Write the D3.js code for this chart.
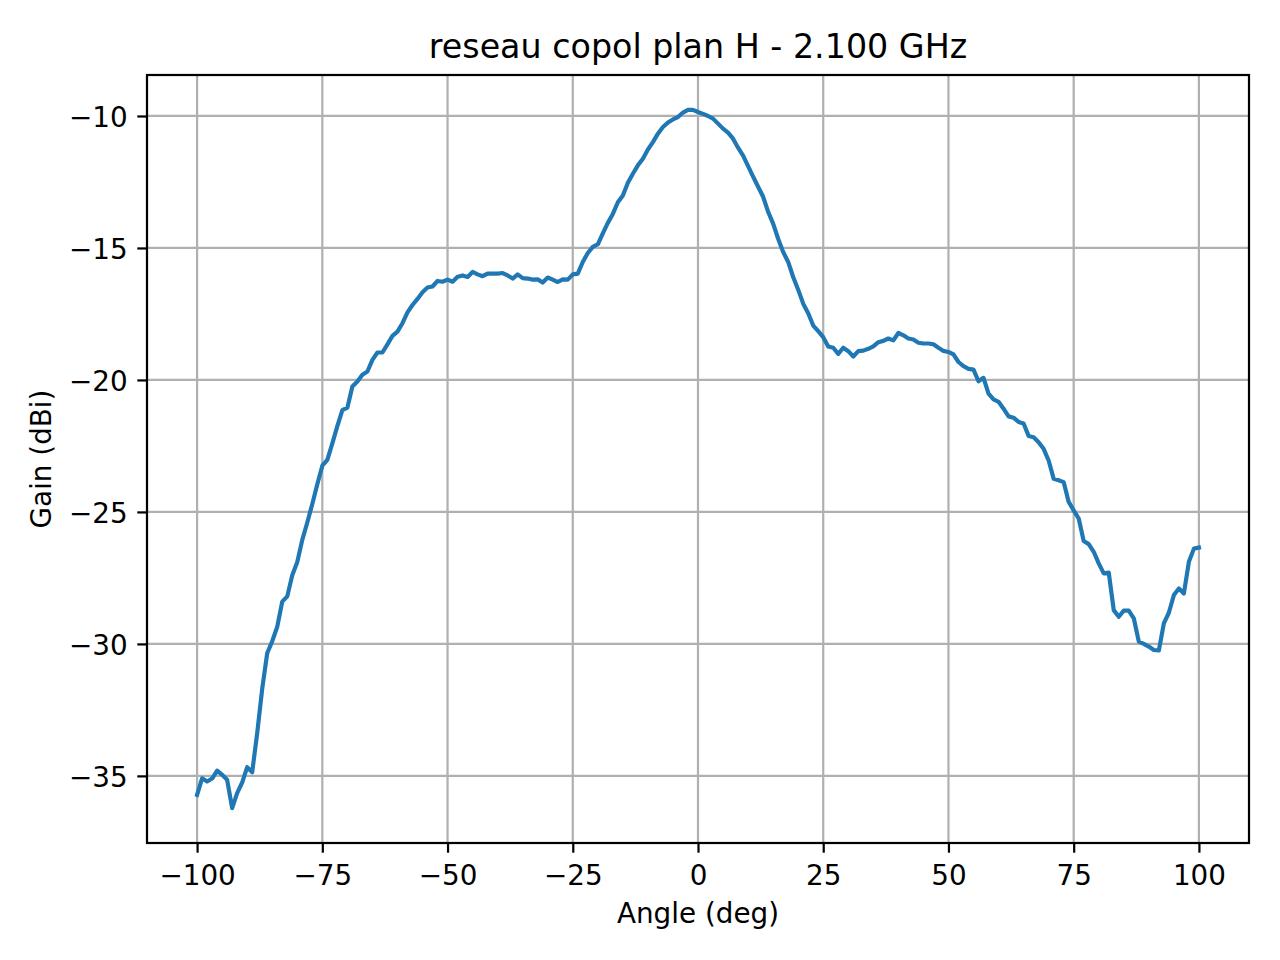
<!DOCTYPE html>
<html>
<head>
<meta charset="utf-8">
<script src="https://cdn.jsdelivr.net/npm/d3@7"></script>
<style>
  body { margin: 0; background: #fff; }
  svg text { font-family: "DejaVu Sans", sans-serif; fill: #000; }
</style>
</head>
<body>
<svg id="chart" width="1280" height="960"></svg>
<script>
// title / labels
const title = "reseau copol plan H - 2.100 GHz";
const xLabel = "Angle (deg)";
const yLabel = "Gain (dBi)";

// angle samples (deg), 1 deg step
const angles = d3.range(-100, 101);

const gain = [
  -35.72, -35.09, -35.21, -35.10, -34.80, -34.96, -35.15, -36.22, -35.65, -35.25,
  -34.67, -34.86, -33.38, -31.70, -30.35, -29.90, -29.35, -28.40, -28.20, -27.40,
  -26.90, -26.06, -25.40, -24.70, -23.95, -23.25, -23.03, -22.40, -21.75, -21.14,
  -21.05, -20.25, -20.06, -19.80, -19.68, -19.24, -18.96, -18.96, -18.65, -18.33,
  -18.17, -17.85, -17.44, -17.16, -16.93, -16.68, -16.50, -16.46, -16.25, -16.28,
  -16.20, -16.28, -16.09, -16.04, -16.10, -15.91, -16.00, -16.07, -15.97, -15.97,
  -15.97, -15.95, -16.04, -16.16, -16.00, -16.14, -16.16, -16.20, -16.19, -16.31,
  -16.12, -16.20, -16.29, -16.19, -16.20, -16.00, -15.97, -15.53, -15.19, -14.96,
  -14.86, -14.45, -14.05, -13.71, -13.27, -13.01, -12.53, -12.19, -11.87, -11.62,
  -11.27, -10.99, -10.67, -10.42, -10.25, -10.13, -10.04, -9.87, -9.77, -9.77,
  -9.85, -9.92, -10.00, -10.10, -10.29, -10.48, -10.63, -10.86, -11.20, -11.50,
  -11.90, -12.30, -12.68, -13.06, -13.63, -14.08, -14.65, -15.15, -15.53, -16.10,
  -16.58, -17.11, -17.47, -17.94, -18.15, -18.38, -18.73, -18.78, -19.01, -18.78,
  -18.91, -19.11, -18.91, -18.89, -18.82, -18.73, -18.57, -18.52, -18.43, -18.50,
  -18.22, -18.31, -18.43, -18.47, -18.59, -18.62, -18.62, -18.65, -18.78, -18.90,
  -18.94, -19.03, -19.32, -19.48, -19.58, -19.61, -20.05, -19.92, -20.52, -20.74,
  -20.83, -21.09, -21.38, -21.43, -21.59, -21.65, -22.12, -22.17, -22.36, -22.61,
  -23.05, -23.74, -23.80, -23.87, -24.62, -24.94, -25.25, -26.10, -26.22, -26.51,
  -26.95, -27.33, -27.30, -28.72, -28.97, -28.74, -28.74, -29.03, -29.91, -30.00,
  -30.10, -30.23, -30.25, -29.22, -28.82, -28.15, -27.90, -28.09, -26.89, -26.39,
  -26.35
];

// tick values
const xTicks = [-100, -75, -50, -25, 0, 25, 50, 75, 100];
const yTicks = [-35, -30, -25, -20, -15, -10];

const data = angles.map((a, i) => ({ a, g: gain[i] }));

// layout (px) - dpi 200 matplotlib look
const m = { left: 147, top: 75, right: 1249, bottom: 843 };
const lw = 2.22;          // 0.8pt
const tickLen = 9.7;      // 3.5pt
const fs = 27.8;          // 10pt

// 5% margins like matplotlib autoscale
const xe = d3.extent(angles), ye = d3.extent(gain);
const xm = (xe[1] - xe[0]) * 0.05, ym = (ye[1] - ye[0]) * 0.05;

const x = d3.scaleLinear().domain([xe[0] - xm, xe[1] + xm]).range([m.left, m.right]);
const y = d3.scaleLinear().domain([ye[0] - ym, ye[1] + ym]).range([m.bottom, m.top]);

const svg = d3.select("#chart");

// grid
const grid = svg.append("g").attr("stroke", "#b0b0b0").attr("stroke-width", lw);
grid.selectAll(".gx").data(xTicks).join("line")
  .attr("x1", d => x(d)).attr("x2", d => x(d))
  .attr("y1", m.top).attr("y2", m.bottom);
grid.selectAll(".gy").data(yTicks).join("line")
  .attr("y1", d => y(d)).attr("y2", d => y(d))
  .attr("x1", m.left).attr("x2", m.right);

// curve
const line = d3.line().x(d => x(d.a)).y(d => y(d.g));
svg.append("path").datum(data)
  .attr("d", line)
  .attr("fill", "none")
  .attr("stroke", "#1f77b4")
  .attr("stroke-width", 4.17)
  .attr("stroke-linejoin", "round")
  .attr("stroke-linecap", "square");

// axes
const fmt = d3.format("");
const xAxis = d3.axisBottom(x).tickValues(xTicks).tickFormat(fmt)
  .tickSizeInner(tickLen).tickSizeOuter(0).tickPadding(9.7);
const yAxis = d3.axisLeft(y).tickValues(yTicks).tickFormat(fmt)
  .tickSizeInner(tickLen).tickSizeOuter(0).tickPadding(9.7);

const gx = svg.append("g").attr("transform", `translate(0,${m.bottom})`).call(xAxis);
const gy = svg.append("g").attr("transform", `translate(${m.left},0)`).call(yAxis);

[gx, gy].forEach(g => {
  g.select(".domain").remove();
  g.selectAll(".tick line").attr("stroke", "#000").attr("stroke-width", lw);
  g.selectAll(".tick text")
    .attr("font-family", "DejaVu Sans")
    .attr("font-size", fs)
    .attr("fill", "#000");
});
gx.selectAll(".tick text").attr("dy", null).attr("y", 42);
gy.selectAll(".tick text").attr("dy", null).attr("y", 10.4).attr("x", -19.4);

// spines
svg.append("rect")
  .attr("x", m.left).attr("y", m.top)
  .attr("width", m.right - m.left).attr("height", m.bottom - m.top)
  .attr("fill", "none").attr("stroke", "#000").attr("stroke-width", lw);

// title & axis labels
svg.append("text")
  .attr("x", (m.left + m.right) / 2).attr("y", 57.5)
  .attr("text-anchor", "middle").attr("font-size", 33.3)
  .text(title);

svg.append("text")
  .attr("x", (m.left + m.right) / 2).attr("y", 922.5)
  .attr("text-anchor", "middle").attr("font-size", fs)
  .text(xLabel);

svg.append("text")
  .attr("transform", `translate(51,${(m.top + m.bottom) / 2}) rotate(-90)`)
  .attr("text-anchor", "middle").attr("font-size", fs)
  .text(yLabel);
</script>
</body>
</html>
